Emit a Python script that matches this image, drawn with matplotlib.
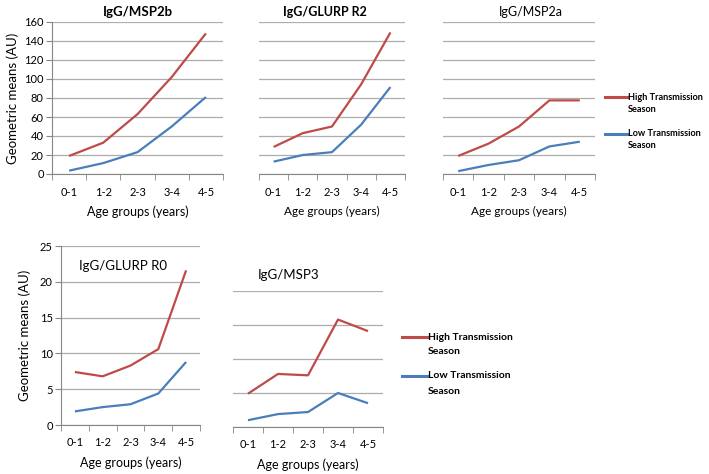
import matplotlib
matplotlib.use("Agg")
import matplotlib.pyplot as plt
from matplotlib.ticker import FixedLocator, MultipleLocator
from matplotlib.lines import Line2D
import numpy as np

plt.rcParams['font.family'] = ['Lato', 'DejaVu Sans']

age_groups = ["0-1", "1-2", "2-3", "3-4", "4-5"]

# geometric means
msp2b_high = [19, 33, 63, 102, 148]
msp2b_low = [3.5, 11.5, 23, 50, 81]
glurp_r2_high = [28.5, 43, 50, 94.5, 149]
glurp_r2_low = [13, 20, 23, 52, 91.5]
msp2a_high = [19, 32, 50, 77.5, 77.5]
msp2a_low = [3, 9.5, 14.5, 29, 34]
glurp_r0_high = [7.4, 6.8, 8.3, 10.6, 21.6]
glurp_r0_low = [1.9, 2.5, 2.9, 4.4, 8.8]
msp3_high = [4.9, 7.8, 7.6, 15.8, 14.1]
msp3_low = [1.0, 1.9, 2.2, 5.0, 3.5]

series_names = ["High Transmission", "Low Transmission"]

red = "#BE4B48"
blue = "#4A7EBB"
grid_col = "#ADADAD"
axis_col = "#868686"

W, H = 709, 474
fig = plt.figure(figsize=(W / 100, H / 100), dpi=100)


def px_axes(x0, x1, y0, y1):
    # pixel box -> figure axes
    return fig.add_axes([x0 / W, 1 - y1 / H, (x1 - x0) / W, (y1 - y0) / H])


def panel(ax, high, low, ymax, ystep, show_y):
    x = np.arange(len(age_groups)) + 0.5
    ax.plot(x, high, color=red, lw=1.6, solid_capstyle="butt")
    ax.plot(x, low, color=blue, lw=1.6, solid_capstyle="butt")
    ax.set_xlim(0, len(age_groups))
    ax.set_ylim(0, ymax)
    ax.yaxis.set_major_locator(MultipleLocator(ystep))
    ax.grid(axis="y", color=grid_col, lw=0.9)
    ax.set_axisbelow(True)
    ax.xaxis.set_major_locator(FixedLocator(x))
    ax.set_xticklabels(age_groups, fontsize=8)
    ax.xaxis.set_minor_locator(FixedLocator(np.arange(len(age_groups) + 1)))
    ax.tick_params(axis="x", which="major", length=0, pad=9)
    ax.tick_params(axis="x", which="minor", length=4, color=axis_col, direction="out")
    for s in ["top", "right"]:
        ax.spines[s].set_visible(False)
    ax.spines["bottom"].set_color(axis_col)
    if show_y:
        ax.spines["left"].set_color(axis_col)
        ax.tick_params(axis="y", length=4, color=axis_col, labelsize=8, pad=2)
    else:
        ax.spines["left"].set_visible(False)
        ax.tick_params(axis="y", length=0, labelleft=False)


def season_legend(x0, rows, size, hlen):
    # Excel style legend: handle sits on the first text line
    for (yl, y2), name, col in zip(rows, series_names, [red, blue]):
        fig.add_artist(Line2D([x0 / W, (x0 + hlen) / W], [1 - yl / H, 1 - yl / H],
                              color=col, lw=2.2, transform=fig.transFigure))
        fig.text((x0 + hlen + 1) / W, 1 - yl / H, name, va="center", ha="left",
                 fontsize=size, fontweight="bold")
        fig.text((x0 + hlen + 1) / W, 1 - y2 / H, "Season", va="center", ha="left",
                 fontsize=size, fontweight="bold")


ax1 = px_axes(52, 223, 22, 174)
panel(ax1, msp2b_high, msp2b_low, 160, 20, True)
ax1.set_xlabel("Age groups (years)", fontsize=9, labelpad=6)
ax1.set_ylabel("Geometric means (AU)", fontsize=9.5, labelpad=4)
ax1.set_title("IgG/MSP2b", fontsize=9.5, fontweight="bold", pad=4)

ax2 = px_axes(259, 405, 22, 174)
panel(ax2, glurp_r2_high, glurp_r2_low, 160, 20, False)
ax2.set_xlabel("Age groups (years)", fontsize=8.5, labelpad=6)
ax2.set_title("IgG/GLURP R2", fontsize=9, fontweight="bold", pad=4, x=0.45)

ax3 = px_axes(443, 595, 22, 174)
panel(ax3, msp2a_high, msp2a_low, 160, 20, False)
ax3.set_xlabel("Age groups (years)", fontsize=8.5, labelpad=6)
ax3.set_title("IgG/MSP2a", fontsize=9, pad=4, x=0.58)

ax4 = px_axes(61, 200, 246, 425)
panel(ax4, glurp_r0_high, glurp_r0_low, 25, 5, True)
ax4.set_xlabel("Age groups (years)", fontsize=9, labelpad=6)
ax4.set_ylabel("Geometric means (AU)", fontsize=9.5, labelpad=6)
ax4.text(79 / W, 1 - 266 / H, "IgG/GLURP R0", transform=fig.transFigure,
         fontsize=9.5, ha="left", va="center")

ax5 = px_axes(233, 383, 291, 427)
panel(ax5, msp3_high, msp3_low, 20, 5, False)
ax5.set_xlabel("Age groups (years)", fontsize=9, labelpad=6)
ax5.text(258 / W, 1 - 275 / H, "IgG/MSP3", transform=fig.transFigure,
         fontsize=9.5, ha="left", va="center")

season_legend(605, [(97, 109), (134, 146)], 6.6, 22)
season_legend(402, [(337, 352), (376, 391)], 7.5, 25)

fig.savefig("out.png", dpi=100)
